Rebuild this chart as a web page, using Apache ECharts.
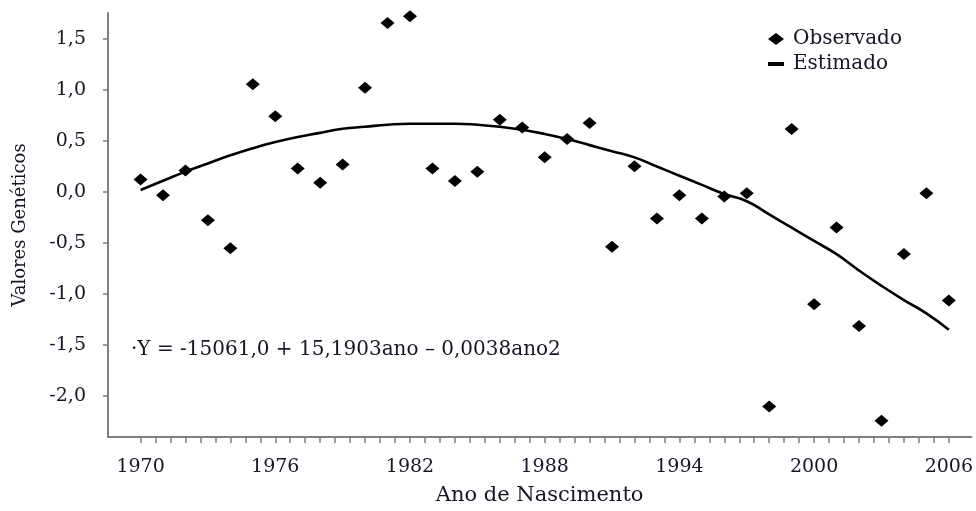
<!DOCTYPE html>
<html><head><meta charset="utf-8">
<script src="https://cdn.jsdelivr.net/npm/echarts@6/dist/echarts.min.js"></script>
<style>html,body{margin:0;padding:0;background:#fff}#c{width:976px;height:511px}</style>
</head><body><div id="c"></div>
<script>
const years = [1970,1971,1972,1973,1974,1975,1976,1977,1978,1979,1980,1981,1982,1983,1984,1985,1986,1987,1988,1989,1990,1991,1992,1993,1994,1995,1996,1997,1998,1999,2000,2001,2002,2003,2004,2005,2006];
const observado = [0.124,-0.032,0.212,-0.276,-0.552,1.057,0.742,0.231,0.092,0.27,1.024,1.659,1.724,0.231,0.107,0.199,0.709,0.634,0.341,0.521,0.677,-0.537,0.254,-0.26,-0.032,-0.26,-0.045,-0.013,-2.103,0.618,-1.102,-0.347,-1.313,-2.244,-0.608,-0.013,-1.063];
const estimado = [0.02,0.11,0.20,0.28,0.36,0.43,0.49,0.54,0.58,0.62,0.64,0.66,0.67,0.67,0.67,0.66,0.64,0.61,0.57,0.52,0.46,0.40,0.34,0.25,0.16,0.07,-0.02,-0.09,-0.22,-0.35,-0.48,-0.61,-0.77,-0.92,-1.06,-1.19,-1.35];
const xTickLabels = [1970,1976,1982,1988,1994,2000,2006];
const yTickLabels = [-2.0,-1.5,-1.0,-0.5,0.0,0.5,1.0,1.5];
const equationText = '·Y = -15061,0 + 15,1903ano \u2013 0,0038ano2';

const xMinorTicks = [];
for (let k = 0; k <= 54; k++) xMinorTicks.push(1970 + k * 2 / 3);

const FONT = 'DejaVu Serif';
const TXT = '#151525';
const AX = '#7f7f7f';
const DASH_ICON = 'path://M0,4H16V8H0Z M0,0H0.01V0.01H0Z M15.99,11.99H16V12H15.99Z';

const chart = echarts.init(document.getElementById('c'), null, {renderer: 'canvas'});
chart.setOption({
  backgroundColor: '#ffffff',
  animation: false,
  grid: {left: 108, right: 4, top: 13, bottom: 72},
  legend: {
    orient: 'vertical', left: 763, top: 24, itemGap: 5,
    itemWidth: 16, itemHeight: 12,
    textStyle: {fontFamily: FONT, fontSize: 20, color: TXT, padding: [0, 0, 0, 4]},
    data: [{name: 'Observado', icon: 'diamond'}, {name: 'Estimado', icon: DASH_ICON}]
  },
  graphic: [{
    type: 'text', left: 131, top: 340, z: 10,
    style: {text: equationText, fontFamily: FONT, fontSize: 20, fill: TXT}
  }],
  xAxis: {
    type: 'value', min: 1968.55, max: 2007,
    name: 'Ano de Nascimento', nameLocation: 'middle', nameGap: 48,
    nameTextStyle: {fontFamily: FONT, fontSize: 21, color: TXT},
    axisLine: {onZero: false, lineStyle: {color: AX, width: 2}},
    axisTick: {show: true, length: 6, customValues: xMinorTicks, lineStyle: {color: AX, width: 1.5}},
    axisLabel: {customValues: xTickLabels, margin: 21, fontFamily: FONT, fontSize: 19, color: TXT,
      formatter: v => String(Math.round(v))},
    splitLine: {show: false}
  },
  yAxis: {
    type: 'value', min: -2.403, max: 1.756,
    name: 'Valores Genéticos', nameLocation: 'middle', nameGap: 79,
    nameTextStyle: {fontFamily: FONT, fontSize: 18, color: TXT},
    axisLine: {show: true, onZero: false, lineStyle: {color: AX, width: 2}},
    axisTick: {show: true, length: 5, customValues: yTickLabels, lineStyle: {color: AX, width: 1.5}},
    axisLabel: {customValues: yTickLabels, margin: 22, fontFamily: FONT, fontSize: 19, color: TXT,
      formatter: v => v.toFixed(1).replace('.', ',')},
    splitLine: {show: false}
  },
  series: [
    {
      name: 'Estimado', type: 'line', smooth: true, symbol: 'none', z: 2,
      lineStyle: {color: '#000', width: 2.6},
      itemStyle: {color: '#000'},
      data: years.map((y, i) => [y, estimado[i]])
    },
    {
      name: 'Observado', type: 'scatter', symbol: 'diamond', symbolSize: [14, 12], z: 3,
      itemStyle: {color: '#000', opacity: 1},
      data: years.map((y, i) => [y, observado[i]])
    }
  ]
});
</script></body></html>
